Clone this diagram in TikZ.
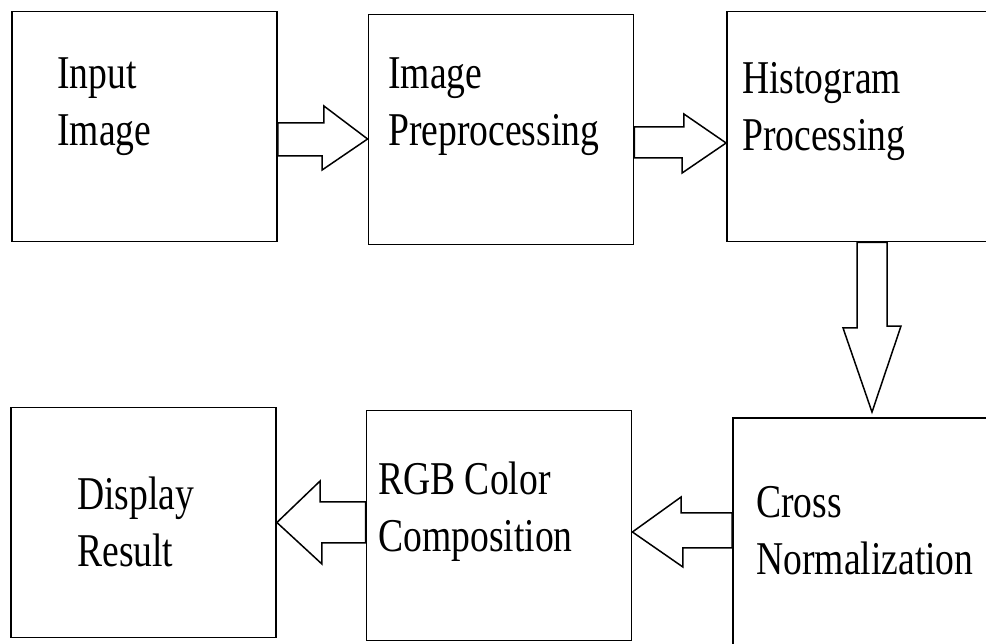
\documentclass[tikz,border=0pt]{standalone}
\usepackage{fontspec}
\setmainfont{Liberation Serif}[FakeStretch=0.8]
\usetikzlibrary{calc}

\begin{document}
\begin{tikzpicture}[x=1pt, y=1pt,
    box/.style={draw, line width=1.8pt, minimum width=265pt, minimum height=230pt, inner sep=0pt},
    lbl/.style={anchor=base west, align=left, inner sep=0pt, font=\fontsize{47}{57}\selectfont},
    barrow/.style={draw, line width=1.5pt, fill=white, line join=miter}]
  \useasboundingbox (0,0) rectangle (986,644);

  % boxes
  \node[box] (in)    at (144.5,517.5) {};
  \node[box] (pre)   at (501,514.5)   {};
  \node[box] (hist)  at (859.5,517.5) {};
  \node[box] (cross) at (865.5,111)   {};
  \node[box] (rgb)   at (499,118.5)   {};
  \node[box] (disp)  at (143.5,121.5) {};

  % labels (base = last line)
  \node[lbl] (in-txt)    at ($(in.north west)+(46,-135)$)     {Input\\Image};
  \node[lbl] (pre-txt)   at ($(pre.north west)+(20.5,-132)$)  {Image\\Preprocessing};
  \node[lbl] (hist-txt)  at ($(hist.north west)+(16,-140)$)   {Histogram\\Processing};
  \node[lbl] (cross-txt) at ($(cross.north west)+(24,-157)$)  {Cross\\Normalization};
  \node[lbl] (rgb-txt)   at ($(rgb.north west)+(12.5,-142)$)  {RGB Color\\Composition};
  \node[lbl] (disp-txt)  at ($(disp.north west)+(67,-160)$)   {Display\\Result};

  % block arrows
  \draw[barrow] ($(in.east)+(0,3.5)$) -- ++(46,0) -- ++(0,17)
    -- ($(pre.west)+(0,-9.5)$) -- ++(-45.5,-31) -- ++(0,14)
    -- ($(in.east)+(0,-29.5)$) -- cycle;
  \draw[barrow] ($(pre.east)+(0,2.5)$) -- ++(49.5,0) -- ++(0,13)
    -- ($(hist.west)+(0,-16.5)$) -- ++(-44,-30) -- ++(0,15)
    -- ($(pre.east)+(0,-28.5)$) -- cycle;
  \draw[barrow] ($(hist.south)+(-2.5,0)$) -- ++(0,-85.5) -- ++(-14,0)
    -- ($(cross.north)+(6.5,5)$) -- ++(29,86) -- ++(-14,0)
    -- ($(hist.south)+(27.5,0)$) -- cycle;
  \draw[barrow] ($(cross.west)+(0,20)$) -- ++(-51,0) -- ++(0,16)
    -- ($(rgb.east)+(0,-6.5)$) -- ++(50.5,-35) -- ++(0,19)
    -- ($(cross.west)+(0,-15)$) -- cycle;
  \draw[barrow] ($(rgb.west)+(0,23.5)$) -- ++(-45.5,0) -- ++(0,21)
    -- (disp.east) -- ++(45,-41.5) -- ++(0,21)
    -- ($(rgb.west)+(0,-17.5)$) -- cycle;
\end{tikzpicture}
\end{document}
